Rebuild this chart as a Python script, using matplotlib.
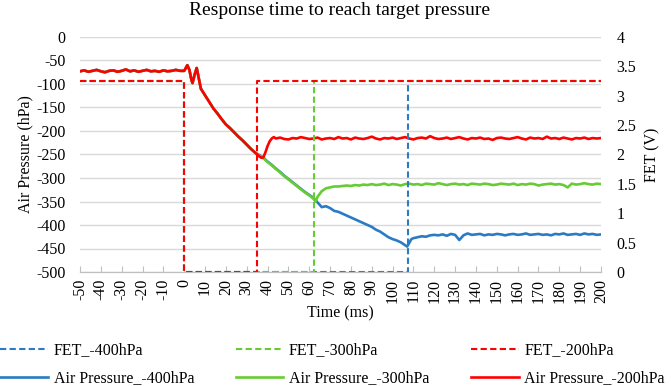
import numpy as np
import matplotlib
matplotlib.use("Agg")
import matplotlib.pyplot as plt
from matplotlib.lines import Line2D

plt.rcParams["font.family"] = ["Liberation Serif", "DejaVu Serif"]
plt.rcParams["axes.unicode_minus"] = False

# ── data ────────────────────────────────────────────────────────────────
# baseline before the valve opens (all three runs overlap)
pre_t = list(range(-50, 0, 2))
pre_p = [-73, -71, -74, -72, -70, -73, -75, -72, -71, -74,
         -72, -69, -73, -71, -74, -72, -70, -73, -72, -74,
         -71, -73, -72, -70, -72]

# common descent
desc_t = [0, 1.5, 2.5, 3.5, 4, 5, 6, 7, 8, 9, 10,
          12, 14, 16, 18, 20, 22, 24, 26, 28, 30, 32, 34]
desc_p = [-72, -60, -70, -92, -98, -80, -66, -88, -110, -117, -124,
          -138, -152, -163, -175, -186, -194, -203, -212, -220, -229, -238, -246]

# -200 hPa run
red_t = [35, 36, 37, 38, 39, 40, 41, 42, 43] + list(range(44, 201, 2))
red_p = [-250, -254, -257, -256, -245, -232, -222, -216, -213,
         -216, -214, -217, -218, -215, -216, -213, -215, -217, -216,
         -214, -218, -216, -215, -217, -213, -216, -215, -218, -214,
         -216, -217, -215, -212, -216, -218, -215, -216, -214, -217,
         -215, -213, -216, -218, -215, -214, -216, -211, -215, -217,
         -216, -214, -217, -215, -213, -216, -218, -215, -216, -214,
         -217, -216, -219, -215, -214, -216, -217, -215, -213, -216,
         -218, -214, -216, -215, -217, -212, -216, -215, -217, -214,
         -216, -218, -215, -216, -214, -217, -215, -216, -215]

# -300 hPa run
green_t = list(range(36, 63, 2)) + [63, 64, 66, 68, 70, 72] + list(range(74, 201, 2))
green_p = [-252, -258, -266, -273, -281, -288, -296, -303, -310, -317,
           -324, -331, -337, -344,
           -350, -340, -328, -322, -320, -318,
           -318, -317, -316, -317, -315, -316, -314, -315, -313, -315,
           -314, -312, -315, -313, -314, -316, -313, -312, -314, -313,
           -315, -312, -313, -314, -311, -313, -315, -313, -312, -314,
           -313, -315, -312, -313, -314, -312, -313, -315, -314, -312,
           -313, -314, -312, -315, -313, -314, -312, -313, -316, -314,
           -313, -312, -314, -313, -315, -320, -312, -314, -313, -311,
           -313, -314, -312, -313]

# -400 hPa run
blue_t = (list(range(36, 107, 2)) + [107, 108, 109, 110, 112, 114, 116, 118]
          + list(range(120, 201, 2)))
blue_p = [-251, -257, -265, -272, -280, -287, -295, -302, -309, -316,
          -323, -330, -336, -342,
          -352, -362, -360, -364, -370, -372, -376, -380, -384, -388,
          -392, -396, -400, -404, -410, -414, -420, -426, -430, -433,
          -437, -443,
          -446, -438, -430, -428, -426, -424, -425, -422,
          -421, -422, -420, -423, -419, -421, -432, -422, -418, -421,
          -420, -419, -422, -420, -421, -419, -420, -422, -420, -419,
          -421, -420, -418, -421, -420, -419, -421, -420, -422, -419,
          -420, -418, -421, -420, -419, -421, -418, -420, -419, -421,
          -420]

# FET gate signals (V)
fet_high = 3.25
fet200_t = [-50, 0, 0, 35, 35, 200]
fet300_t = [-50, 0, 0, 62.4, 62.4, 200]
fet400_t = [-50, 0, 0, 107.2, 107.2, 200]
fet_v = [fet_high, fet_high, 0, 0, fet_high, fet_high]

BLUE, GREEN, RED = "#2A7BC4", "#66CC33", "#FF0000"

# ── figure ──────────────────────────────────────────────────────────────
fig = plt.figure(figsize=(6.71, 3.86), dpi=100)
ax = fig.add_axes([80/671, 1-272/386, 521/671, 235/386])
ax2 = ax.twinx()

common_t = pre_t + desc_t
common_p = pre_p + desc_p
for t, p, c in [(blue_t, blue_p, BLUE), (green_t, green_p, GREEN), (red_t, red_p, RED)]:
    ax.plot(common_t + t, common_p + p, color=c, lw=1.9, zorder=3)

for t, c in [(fet400_t, BLUE), (fet300_t, GREEN), (fet200_t, RED)]:
    ax2.plot(t, fet_v, color=c, lw=1.5, dashes=(3, 1.6))

ax.set_xlim(-50, 200)
ax.set_ylim(-500, 0)
ax2.set_ylim(0, 4)
ax.set_xticks(np.arange(-50, 201, 10))
ax.set_yticks(np.arange(-500, 1, 50))
ax2.set_yticks(np.arange(0, 4.01, 0.5))
ax2.set_yticklabels(["0", "0.5", "1", "1.5", "2", "2.5", "3", "3.5", "4"])

ax.grid(axis="y", color="#D9D9D9", lw=1)
ax.set_axisbelow(True)
for a in (ax, ax2):
    for s in ("top", "left", "right"):
        a.spines[s].set_visible(False)
    a.spines["bottom"].set_color("#BFBFBF")
ax.tick_params(axis="x", direction="in", length=4, color="#BFBFBF",
               labelsize=11.5, labelrotation=90, pad=5)
ax.tick_params(axis="y", length=0, labelsize=11.5, pad=10.5)
ax2.tick_params(axis="y", length=0, labelsize=11.5, pad=11)

ax.set_xlabel("Time (ms)", fontsize=11.5, labelpad=2)
ax.set_ylabel("Air Pressure (hPa)", fontsize=11.5, labelpad=2)
ax2.set_ylabel("FET (V)", fontsize=11.5, labelpad=6)
fig.text(0.506, 0.972, "Response time to reach target pressure",
         ha="center", va="center", fontsize=14)

handles = [
    Line2D([], [], color=BLUE, lw=1.5, dashes=(3, 1.6)),
    Line2D([], [], color=BLUE, lw=1.9),
    Line2D([], [], color=GREEN, lw=1.5, dashes=(3, 1.6)),
    Line2D([], [], color=GREEN, lw=1.9),
    Line2D([], [], color=RED, lw=1.5, dashes=(3, 1.6)),
    Line2D([], [], color=RED, lw=1.9),
]
labels = ["FET_-400hPa", "Air Pressure_-400hPa", "FET_-300hPa",
          "Air Pressure_-300hPa", "FET_-200hPa", "Air Pressure_-200hPa"]
fig.legend(handles, labels, ncol=3, loc="upper left", bbox_to_anchor=(0.0, 0.113),
           frameon=False, fontsize=11.5, borderpad=0, borderaxespad=0,
           handlelength=3.0, handletextpad=0.35, columnspacing=2.6, labelspacing=0.75)

fig.savefig("out.png", dpi=100)
